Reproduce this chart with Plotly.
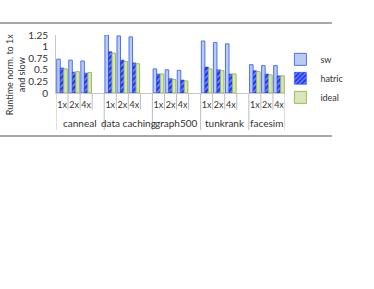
import plotly.graph_objects as go

groups = ["canneal", "data caching", "graph500", "tunkrank", "facesim"]
sizes = ["1x", "2x", "4x"]
sw = [0.73, 0.71, 0.69,
      1.25, 1.23, 1.21,
      0.52, 0.50, 0.49,
      1.12, 1.09, 1.06,
      0.61, 0.59, 0.59]
hatric = [0.54, 0.45, 0.43,
          0.89, 0.71, 0.65,
          0.41, 0.31, 0.28,
          0.56, 0.50, 0.41,
          0.48, 0.41, 0.37]
ideal = [0.52, 0.46, 0.44,
         0.86, 0.68, 0.63,
         0.41, 0.29, 0.26,
         0.52, 0.48, 0.41,
         0.46, 0.39, 0.37]
yticks = [0, 0.25, 0.5, 0.75, 1, 1.25]
ytick_text = ["0", "0.25", "0.5", "0.75", "1", "1.25"]
y_title = "Runtime norm. to 1x<br>and slow"

slots_per_group = len(sizes) + 1
xpos = [g * slots_per_group + s for g in range(len(groups)) for s in range(len(sizes))]
xlabels = [sizes[s] for g in range(len(groups)) for s in range(len(sizes))]
n_slots = len(groups) * slots_per_group - 1

FONT = "Lato"
TXT = "#333333"
fig = go.Figure()
fig.add_trace(go.Bar(x=xpos, y=sw, name="sw",
                     marker=dict(color="#b9cbf3", line=dict(color="#4d70f0", width=1))))
fig.add_trace(go.Bar(x=xpos, y=hatric, name="hatric",
                     marker=dict(color="#1e3df5", line=dict(color="#1e3df5", width=0.5),
                                 pattern=dict(shape="/", fgcolor="white", size=4, solidity=0.3))))
fig.add_trace(go.Bar(x=xpos, y=ideal, name="ideal",
                     marker=dict(color="#d9e6b8", line=dict(color="#9bbb59", width=1))))

shapes = []
group_bounds = [g * slots_per_group - 0.5 for g in range(len(groups))] + [n_slots - 0.5]
for k in range(n_slots + 1):
    b = k - 0.5
    long = b in group_bounds
    shapes.append(dict(type="line", xref="x", yref="paper", x0=b, x1=b,
                       y0=0, y1=-0.64 if long else -0.29,
                       line=dict(color="#bdbdbd", width=1)))
# horizontal frame lines
for yy in (1.207, -0.741):
    shapes.append(dict(type="line", xref="paper", yref="paper", x0=-0.2445, x1=1.205,
                       y0=yy, y1=yy, line=dict(color="#8a8a8a", width=1.5)))

annotations = []
for g, name in enumerate(groups):
    start = g * slots_per_group - 0.5
    end = min(start + slots_per_group, n_slots - 0.5)
    annotations.append(dict(x=(start + end) / 2, y=-0.52, xref="x", yref="paper",
                            text=name, showarrow=False, yanchor="middle",
                            font=dict(family=FONT, size=10, color=TXT)))
annotations.append(dict(x=-0.178, y=0.31, xref="paper", yref="paper", text=y_title,
                        textangle=-90, showarrow=False, xanchor="center", yanchor="middle",
                        font=dict(family=FONT, size=9, color=TXT)))

fig.update_layout(
    width=374, height=289,
    margin=dict(l=56, r=89, t=35, b=196),
    paper_bgcolor="white", plot_bgcolor="white",
    barmode="group", bargap=0.12, bargroupgap=0,
    showlegend=True,
    legend=dict(x=0.98, y=0.83, xanchor="left", yanchor="top",
                font=dict(family=FONT, size=9, color=TXT), maxheight=200,
                itemwidth=30, tracegroupgap=0, bgcolor="rgba(0,0,0,0)"),
    shapes=shapes, annotations=annotations,
    font=dict(family=FONT, size=10, color=TXT),
)
fig.update_xaxes(range=[-0.5, n_slots - 0.5], tickvals=xpos, ticktext=xlabels,
                 tickangle=0, automargin=False,
                 showgrid=False, showline=True, linecolor="#c8c8c8", linewidth=1,
                 ticks="", ticklabelstandoff=3, tickfont=dict(family=FONT, size=9, color=TXT),
                 fixedrange=True)
fig.update_yaxes(range=[0, 1.25], tickvals=yticks, ticktext=ytick_text, automargin=False,
                 showgrid=False, showline=True, linecolor="#c8c8c8", linewidth=1,
                 ticks="", ticklabelstandoff=5, zeroline=False,
                 tickfont=dict(family=FONT, size=10, color=TXT))

fig.write_html("out.html", config={"displayModeBar": False},
               post_script="document.body.style.margin='0';")
